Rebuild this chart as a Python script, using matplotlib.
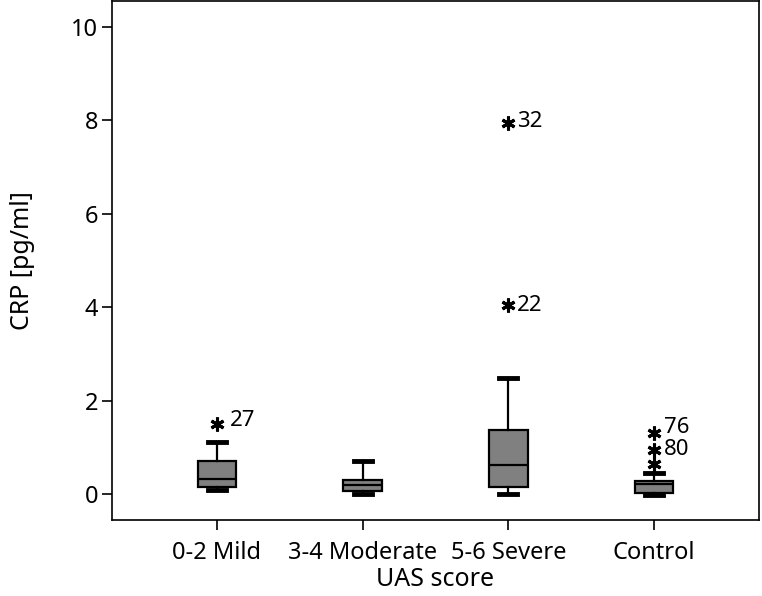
import matplotlib
matplotlib.use("Agg")
import matplotlib.pyplot as plt

# Box statistics (CRP, pg/ml)
groups = ['0-2 Mild', '3-4 Moderate', '5-6 Severe', 'Control']
whislo = [0.09, 0.0, 0.01, -0.03]
q1 = [0.16, 0.07, 0.16, 0.02]
med = [0.32, 0.19, 0.63, 0.22]
q3 = [0.70, 0.31, 1.37, 0.27]
whishi = [1.11, 0.70, 2.49, 0.46]

# Extreme values (plotted as asterisks) and their case numbers
out_group = [1, 3, 3, 4, 4, 4]
out_value = [1.49, 4.04, 7.95, 1.30, 0.95, 0.65]
out_label = ['27', '22', '32', '76', '80', '']

plt.rcParams['font.family'] = ['Noto Sans', 'DejaVu Sans']

fig = plt.figure(figsize=(7.62, 5.96), dpi=100)
ax = fig.add_axes([0.147, 0.128, 0.849, 0.870])

stats = []
for i, g in enumerate(groups):
    stats.append({'label': g, 'whislo': whislo[i], 'q1': q1[i], 'med': med[i],
                  'q3': q3[i], 'whishi': whishi[i], 'fliers': []})

positions = list(range(1, len(groups) + 1))
ax.bxp(stats, positions=positions, widths=0.265, patch_artist=True,
       showfliers=False,
       boxprops=dict(facecolor='#808080', edgecolor='black', linewidth=1.6),
       medianprops=dict(color='black', linewidth=1.6),
       whiskerprops=dict(color='black', linewidth=1.6),
       capprops=dict(color='black', linewidth=3.5),
       capwidths=0.125)

# asterisk markers for extreme values
ax.plot(out_group, out_value, linestyle='none', marker=(6, 2, 0),
        markersize=10, markeredgewidth=2.2, color='black')
offsets = {'27': (9, 3), '22': (6, 0), '32': (6, 1), '76': (7, 4), '80': (7, 0)}
for g, v, lab in zip(out_group, out_value, out_label):
    if lab:
        dx, dy = offsets[lab]
        ax.annotate(lab, (g, v), xytext=(dx, dy), textcoords='offset points',
                    ha='left', va='center', fontsize=16)

ax.set_xlim(0.28, 4.72)
ax.set_ylim(-0.55, 10.55)
ax.set_yticks([0, 2, 4, 6, 8, 10])
ax.set_xticks(positions)
ax.set_xticklabels(groups)
ax.tick_params(axis='both', labelsize=17, length=7, width=1.2, pad=3, direction='out')
ax.tick_params(axis='x', pad=8)
for s in ax.spines.values():
    s.set_linewidth(1.2)

ax.set_xlabel('UAS score', fontsize=18, labelpad=2)
ax.set_ylabel('CRP [pg/ml]', fontsize=18, labelpad=26)

plt.savefig('out.png', dpi=100)
